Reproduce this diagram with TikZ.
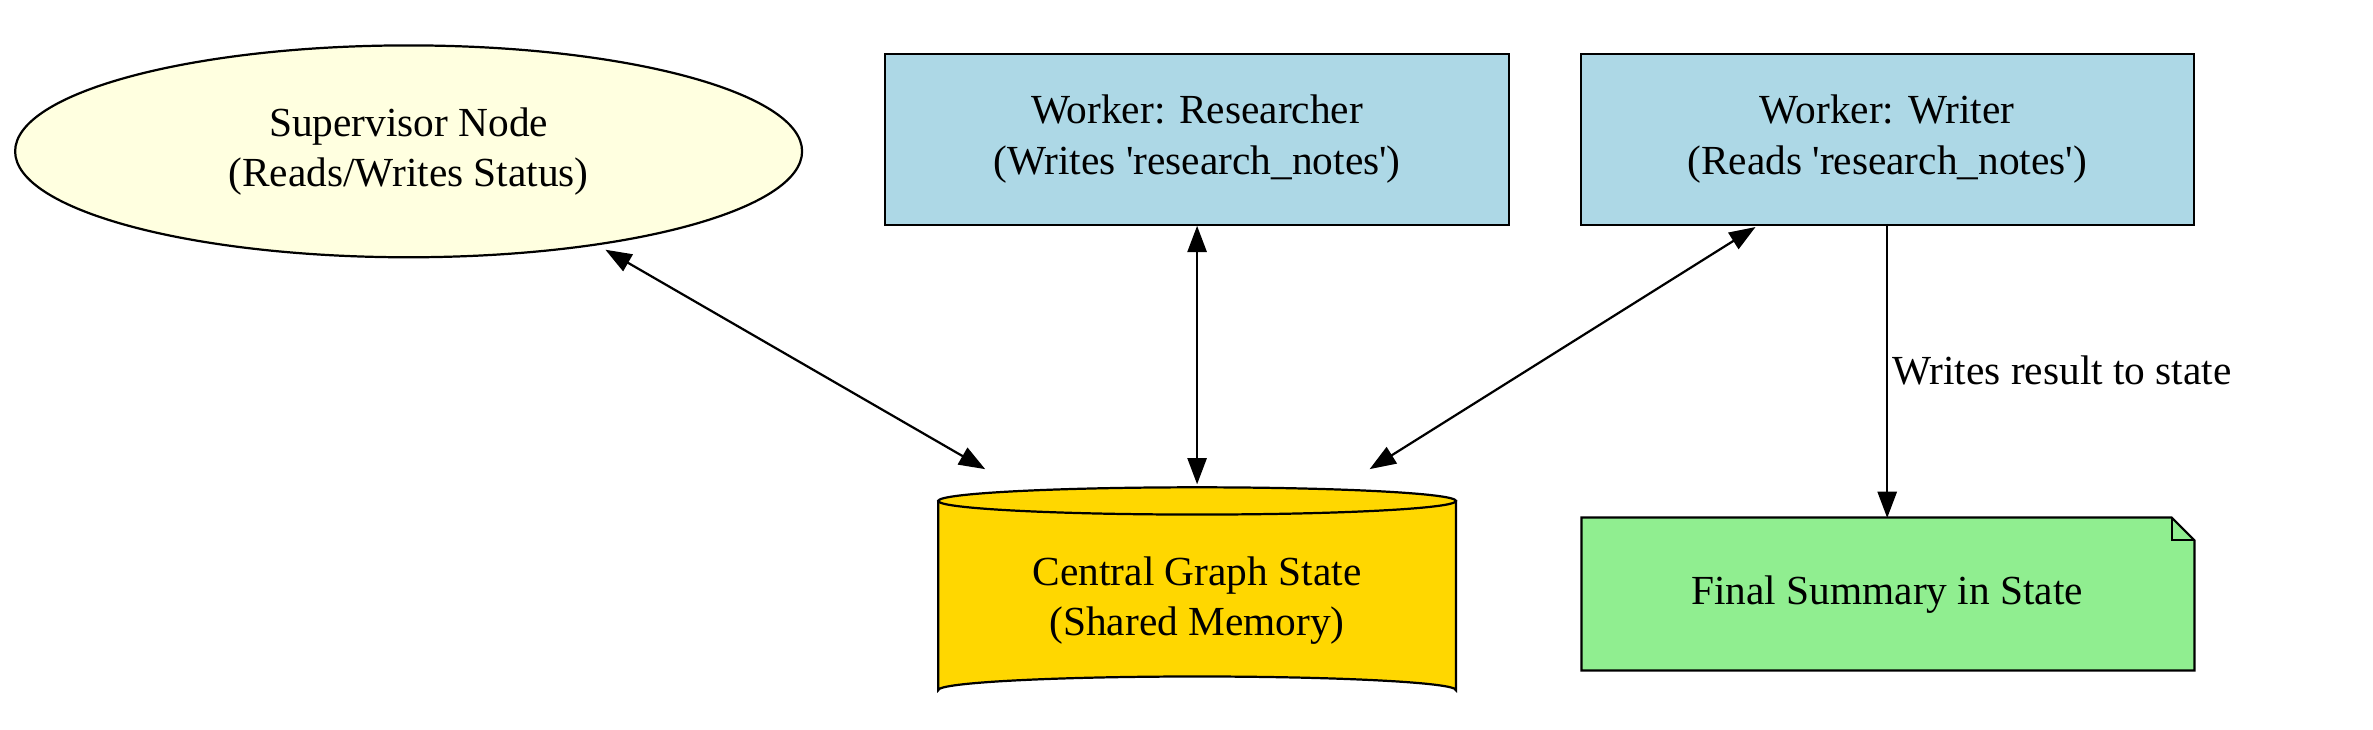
\documentclass[tikz,border=0pt]{standalone}
\usepackage{fontspec}
\setmainfont{Liberation Serif}
\usetikzlibrary{arrows.meta,shapes.geometric}
\definecolor{lyel}{HTML}{FFFFE0}
\definecolor{lblue}{HTML}{ADD8E6}
\definecolor{gld}{HTML}{FFD700}
\definecolor{lgrn}{HTML}{90EE90}
\begin{document}
\begin{tikzpicture}[x=0.75pt,y=-0.75pt,
  every node/.style={font=\fontsize{20.5pt}{25pt}\selectfont,align=center},
  box/.style={draw,line width=1.1pt,fill=lblue,minimum width=412*0.75pt,minimum height=113*0.75pt},
  edge/.style={line width=1.1pt,-{Triangle[length=13pt,width=9.5pt]}},
  bedge/.style={line width=1.1pt,{Triangle[length=13pt,width=9.5pt]}-{Triangle[length=13pt,width=9.5pt]}}]
\useasboundingbox (0,0) rectangle (1568,482);
\node[ellipse,draw,line width=1.1pt,fill=lyel,minimum width=520*0.75pt,minimum height=140*0.75pt,inner sep=0pt] (sup) at (270,100) {Supervisor Node\\(Reads/Writes Status)};
\node[box] (res) at (791,92) {Worker: Researcher\\(Writes \textquotesingle research\_notes\textquotesingle)};
\node[box,minimum width=405*0.75pt] (wri) at (1247,92) {Worker: Writer\\(Reads \textquotesingle research\_notes\textquotesingle)};
% cylinder
\filldraw[line width=1.1pt,fill=gld] (620,331) -- (620,456) arc[start angle=180,end angle=360,x radius=171,y radius=9] -- (962,331) -- cycle;
\filldraw[line width=1.1pt,fill=gld] (791,331) ellipse[x radius=171,y radius=9];
\node[minimum width=342*0.75pt,minimum height=143*0.75pt] (cen) at (791,397) {Central Graph State\\(Shared Memory)};
% note
\filldraw[line width=1.1pt,fill=lgrn] (1045,342) -- (1435,342) -- (1450,357) -- (1450,443) -- (1045,443) -- cycle;
\draw[line width=1.1pt] (1435,342) -- (1435,357) -- (1450,357);
\node[minimum width=405*0.75pt,minimum height=101*0.75pt] (fin) at (1247,393) {Final Summary in State};
\draw[bedge] (400,165) -- (651,310);
\draw[bedge] (res.south) -- (791,320);
\draw[bedge] (1160,150) -- (905,310);
\draw[edge] (1247,148) -- (fin.north);
\node[anchor=west,inner sep=0pt] (lab) at (1250,245) {Writes result to state};
\end{tikzpicture}
\end{document}
